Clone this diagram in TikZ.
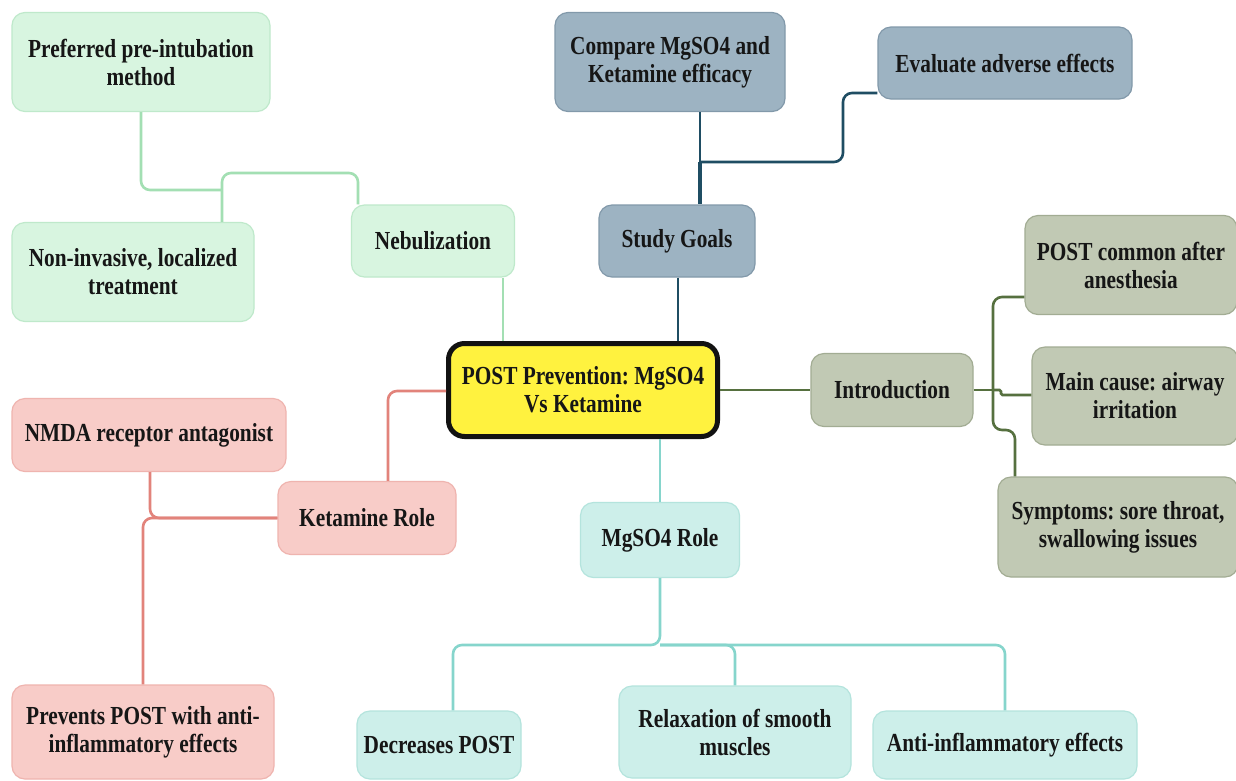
\documentclass[tikz,border=0pt]{standalone}
\usepackage{fontspec}
\setmainfont{Liberation Serif}[FakeStretch=0.82]
\frenchspacing
\definecolor{gfill}{HTML}{D8F5E0}\definecolor{gdraw}{HTML}{BFE9CB}\definecolor{gline}{HTML}{A3DFB3}
\definecolor{bfill}{HTML}{9DB3C2}\definecolor{bdraw}{HTML}{8299AA}\definecolor{bline}{HTML}{1F4D63}
\definecolor{ifill}{HTML}{C1C9B4}\definecolor{idraw}{HTML}{A2AC93}\definecolor{iline}{HTML}{56703F}
\definecolor{kfill}{HTML}{F8CCC8}\definecolor{kdraw}{HTML}{EFB4AF}\definecolor{kline}{HTML}{E2837B}
\definecolor{mfill}{HTML}{CDEFEA}\definecolor{mdraw}{HTML}{B4E4DD}\definecolor{mline}{HTML}{86D5CC}
\definecolor{cyel}{HTML}{FFF23F}\definecolor{txt}{HTML}{161616}
\tikzset{
  box/.style={rounded corners=13pt, line width=1.2pt, inner sep=0pt, align=center, text=txt,
    font=\fontsize{26}{28}\selectfont\bfseries\frenchspacing},
  gbox/.style={box, fill=gfill, draw=gdraw},
  bbox/.style={box, fill=bfill, draw=bdraw},
  ibox/.style={box, fill=ifill, draw=idraw},
  kbox/.style={box, fill=kfill, draw=kdraw},
  mbox/.style={box, fill=mfill, draw=mdraw},
  cbox/.style={box, fill=cyel, draw=black!93, line width=5pt, rounded corners=16pt},
  conn/.style={line width=2.6pt, rounded corners=9pt},
  gl/.style={conn, draw=gline}, bl/.style={conn, draw=bline}, il/.style={conn, draw=iline},
  kl/.style={conn, draw=kline}, ml/.style={conn, draw=mline},
}
\begin{document}
\begin{tikzpicture}[x=1pt,y=-1pt]
\useasboundingbox[fill=white] (0,0) rectangle (1236,780);
% named coordinates for bends
\coordinate (j1) at (222,190);
\coordinate (jt) at (290,173);
\coordinate (nbx) at (358,0);
\coordinate (nbx2) at (503,0);
\coordinate (sx) at (700,0);
\coordinate (sgj) at (700,162);
\coordinate (ey) at (0,93);
\coordinate (ecorner) at (843,162);
\coordinate (gx) at (678,0);
\coordinate (ij) at (993,390);
\coordinate (ij2) at (1001,390);
\coordinate (ij3) at (0,395);
\coordinate (p1y) at (0,297);
\coordinate (sj) at (1015,430);
\coordinate (ky) at (0,391);
\coordinate (kx) at (388,0);
\coordinate (nx) at (150,0);
\coordinate (px) at (143,0);
\coordinate (mx) at (660,0);
\coordinate (mj) at (660,645);
\coordinate (dx) at (453,0);

% nodes
\node[gbox, minimum width=258pt, minimum height=99pt] (pre) at (141,62) {Preferred pre-intubation\\method};
\node[gbox, minimum width=242pt, minimum height=99pt] (noninv) at (133,272) {Non-invasive, localized\\treatment};
\node[gbox, minimum width=163pt, minimum height=72pt] (neb) at (433,241) {Nebulization};
\node[bbox, minimum width=230pt, minimum height=99pt] (cmp) at (670,62) {Compare MgSO4 and\\Ketamine efficacy};
\node[bbox, minimum width=254pt, minimum height=72pt] (eval) at (1005,63) {Evaluate adverse effects};
\node[bbox, minimum width=156pt, minimum height=72pt] (goals) at (677,241) {Study Goals};
\node[ibox, minimum width=162pt, minimum height=73pt] (intro) at (892,390) {Introduction};
\node[ibox, minimum width=212pt, minimum height=99pt] (post1) at (1131,265) {POST common after\\anesthesia};
\node[ibox, minimum width=206pt, minimum height=98pt] (cause) at (1135,396) {Main cause: airway\\irritation};
\node[ibox, minimum width=240pt, minimum height=100pt] (symp) at (1118,527) {Symptoms: sore throat,\\swallowing issues};
\node[kbox, minimum width=274pt, minimum height=73pt] (nmda) at (149,435) {NMDA receptor antagonist};
\node[kbox, minimum width=178pt, minimum height=73pt] (ket) at (367,518) {Ketamine Role};
\node[kbox, minimum width=262pt, minimum height=94pt] (prev) at (143,732) {Prevents POST with anti-\\inflammatory effects};
\node[mbox, minimum width=159pt, minimum height=75pt] (mgrole) at (660,540) {MgSO4 Role};
\node[mbox, minimum width=164pt, minimum height=68pt] (dec) at (439,745) {Decreases POST};
\node[mbox, minimum width=232pt, minimum height=92pt] (relax) at (735,732) {Relaxation of smooth\\muscles};
\node[mbox, minimum width=264pt, minimum height=68pt] (anti) at (1005,745) {Anti-inflammatory effects};
\node[cbox, minimum width=269pt, minimum height=93pt] (center) at (583,390) {POST Prevention: MgSO4\\Vs Ketamine};

% connectors
\draw[gl] (pre.south) |- (j1);
\draw[gl] (noninv.north -| j1) |- (jt) -| (neb.north -| nbx);
\draw[gl] (neb.south -| nbx2) -- (center.north -| nbx2);
\draw[bl] (cmp.south -| sx) -- (sgj);
\draw[bl, line width=3.4pt] (sgj) -- (goals.north -| sx);
\draw[bl] (eval.west |- ey) -| (ecorner) -- (sgj);
\draw[bl] (goals.south -| gx) -- (center.north -| gx);
\draw[il] (center.east) -- (intro.west);
\draw[il] (intro.east) -- (ij);
\draw[il] (ij) |- (post1.west |- p1y);
\draw[il, rounded corners=1.5pt] (ij) -- (ij2) |- (cause.west |- ij3);
\draw[il] (ij) |- (sj) -- (symp.north -| sj);
\draw[kl] (center.west |- ky) -| (ket.north -| kx);
\draw[kl] (nmda.south -| nx) |- (ket.west);
\draw[kl] (prev.north -| px) |- (ket.west);
\draw[ml] (center.south -| mx) -- (mgrole.north -| mx);
\draw[ml] (mgrole.south) -- (mj) -| (dec.north -| dx);
\draw[ml] (mj) -| (relax.north);
\draw[ml] (mj) -| (anti.north);
\end{tikzpicture}
\end{document}
